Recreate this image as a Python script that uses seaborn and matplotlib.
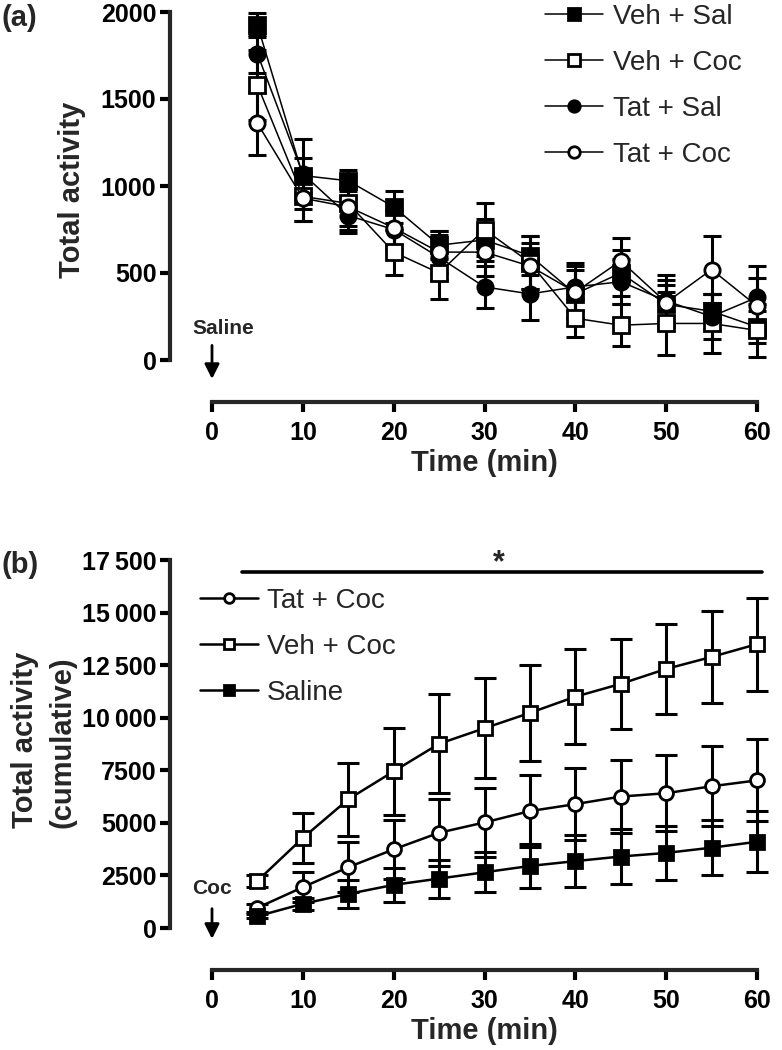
import matplotlib
matplotlib.use("Agg")
import matplotlib.pyplot as plt
import seaborn as sns
from matplotlib.ticker import FuncFormatter

# ---- data ----
time = [5, 10, 15, 20, 25, 30, 35, 40, 45, 50, 55, 60]

# panel (a): activity per 5-min bin, mean and SEM
veh_sal = [1925, 1060, 1030, 880, 660, 690, 600, 380, 500, 320, 280, 190]
veh_sal_sem = [70, 100, 60, 90, 80, 120, 110, 140, 130, 110, 100, 90]
veh_coc = [1580, 940, 900, 620, 500, 750, 560, 240, 200, 210, 210, 170]
veh_coc_sem = [200, 140, 150, 130, 150, 150, 150, 110, 120, 180, 170, 150]
tat_sal = [1760, 1070, 830, 750, 590, 420, 380, 420, 450, 340, 250, 360]
tat_sal_sem = [110, 200, 100, 110, 130, 120, 150, 140, 130, 150, 130, 180]
tat_coc = [1360, 930, 880, 760, 620, 620, 540, 390, 570, 330, 520, 310]
tat_coc_sem = [180, 130, 110, 100, 120, 140, 130, 150, 130, 130, 190, 160]

# panel (b): cumulative activity, mean and SEM
cum_tat_coc = [960, 1940, 2890, 3740, 4530, 5020, 5560, 5890, 6250, 6410, 6740, 7020]
cum_tat_coc_sem = [200, 700, 1200, 1400, 1600, 1650, 1700, 1700, 1750, 1800, 1900, 1950]
cum_veh_coc = [2240, 4280, 6120, 7450, 8760, 9500, 10230, 11000, 11610, 12320, 12890, 13500]
cum_veh_coc_sem = [300, 1200, 1750, 2080, 2360, 2370, 2300, 2250, 2150, 2150, 2200, 2210]
cum_saline = [560, 1150, 1620, 2050, 2350, 2650, 2950, 3180, 3400, 3570, 3820, 4100]
cum_saline_sem = [100, 300, 650, 800, 900, 950, 1050, 1250, 1300, 1300, 1300, 1450]

sig_span = [3.3, 60.5]

# ---- style ----
sns.set_theme(style="ticks")
plt.rcParams['font.family'] = ['Liberation Sans', 'DejaVu Sans']
plt.rcParams['axes.linewidth'] = 3

W, H = 782, 1050
fig = plt.figure(figsize=(W / 100, H / 100), dpi=100)
ax1 = fig.add_axes([212 / W, 1 - 360 / H, 545 / W, 348 / H])
ax2 = fig.add_axes([212 / W, 1 - 928 / H, 545 / W, 368 / H])


def style_axis(ax, ymax, ystep, fmt=None):
    ax.set_xlim(0, 60)
    ax.set_ylim(0, ymax)
    sns.despine(ax=ax)
    for s in ['left', 'bottom']:
        ax.spines[s].set_position(('outward', 30))
        ax.spines[s].set_linewidth(3)
        ax.spines[s].set_capstyle('projecting')
    ax.set_xticks(range(0, 61, 10))
    ax.set_yticks(range(0, ymax + 1, ystep))
    if fmt is not None:
        ax.yaxis.set_major_formatter(FuncFormatter(fmt))
    ax.tick_params(width=3, length=7, labelsize=18, color='black',
                   labelcolor='black')
    ax.tick_params(axis='x', pad=7)
    ax.tick_params(axis='y', pad=3)
    for lbl in ax.get_xticklabels() + ax.get_yticklabels():
        lbl.set_fontweight('bold')
    ax.set_xlabel('Time (min)', fontsize=21, fontweight='bold', labelpad=3)
    ax.grid(False)


def draw_series(ax, y, sem, marker, face, name, ms, lw, cap):
    ax.errorbar(time, y, yerr=sem, fmt='none', ecolor='black', elinewidth=2.2,
                capsize=cap, capthick=2.2, zorder=2, clip_on=False)
    sns.lineplot(x=time, y=y, ax=ax, color='black', linewidth=lw, marker=marker,
                 markersize=ms, markerfacecolor=face, markeredgecolor='black',
                 markeredgewidth=2, label=name, zorder=3, clip_on=False)


# ---- panel (a) ----
draw_series(ax1, veh_sal, veh_sal_sem, 's', 'black', 'Veh + Sal', 11, 1.1, 6.5)
draw_series(ax1, veh_coc, veh_coc_sem, 's', 'white', 'Veh + Coc', 11, 1.1, 6.5)
draw_series(ax1, tat_sal, tat_sal_sem, 'o', 'black', 'Tat + Sal', 11, 1.1, 6.5)
draw_series(ax1, tat_coc, tat_coc_sem, 'o', 'white', 'Tat + Coc', 11, 1.1, 6.5)
style_axis(ax1, 2000, 500)
ax1.set_ylabel('')
ax1.legend(loc='upper left', bbox_to_anchor=(545 / W, 1 - 4 / H),
           bbox_transform=fig.transFigure, frameon=False, fontsize=20,
           handlelength=2.1, handletextpad=0.35, labelspacing=0.72,
           borderpad=0, borderaxespad=0, markerscale=0.75)
ax1.annotate('', xy=(0, -125), xytext=(0, 100), annotation_clip=False,
             arrowprops=dict(arrowstyle='-|>', color='black', lw=2, mutation_scale=22))
ax1.text(-2.2, 180, 'Saline', fontsize=15, fontweight='bold', ha='left', va='center')
fig.text(72 / W, 1 - 190 / H, 'Total activity', rotation=90, fontsize=21,
         fontweight='bold', ha='center', va='center')
fig.text(0.002, 1 - 18 / H, '(a)', fontsize=21, fontweight='bold', va='center')

# ---- panel (b) ----
draw_series(ax2, cum_tat_coc, cum_tat_coc_sem, 'o', 'white', 'Tat + Coc', 10, 1.8, 8)
draw_series(ax2, cum_veh_coc, cum_veh_coc_sem, 's', 'white', 'Veh + Coc', 10, 1.8, 8)
draw_series(ax2, cum_saline, cum_saline_sem, 's', 'black', 'Saline', 10, 1.8, 8)


def thin_fmt(v, pos):
    v = int(v)
    if v >= 10000:
        return f"{v // 1000}\u2009{v % 1000:03d}"
    return str(v)


style_axis(ax2, 17500, 2500, thin_fmt)
ax2.set_ylabel('')
ax2.legend(loc='upper left', bbox_to_anchor=(200 / W, 1 - 588 / H),
           bbox_transform=fig.transFigure, frameon=False, fontsize=20,
           handlelength=2.1, handletextpad=0.3, labelspacing=0.72,
           borderpad=0, borderaxespad=0, markerscale=0.7)
ax2.plot(sig_span, [16950, 16950], color='black', lw=2.6, clip_on=False)
ax2.text(sum(sig_span) / 2 - 0.3, 17350, '*', fontsize=22, fontweight='bold',
         ha='center', va='center')
ax2.annotate('', xy=(0, -650), xytext=(0, 1050), annotation_clip=False,
             arrowprops=dict(arrowstyle='-|>', color='black', lw=2, mutation_scale=22))
ax2.text(-2.2, 1900, 'Coc', fontsize=15, fontweight='bold', ha='left', va='center')
fig.text(25 / W, 1 - 740 / H, 'Total activity', rotation=90, fontsize=21,
         fontweight='bold', ha='center', va='center')
fig.text(62 / W, 1 - 742 / H, '(cumulative)', rotation=90, fontsize=21,
         fontweight='bold', ha='center', va='center')
fig.text(0.002, 1 - 565 / H, '(b)', fontsize=21, fontweight='bold', va='center')

fig.savefig("out.png", dpi=100)
